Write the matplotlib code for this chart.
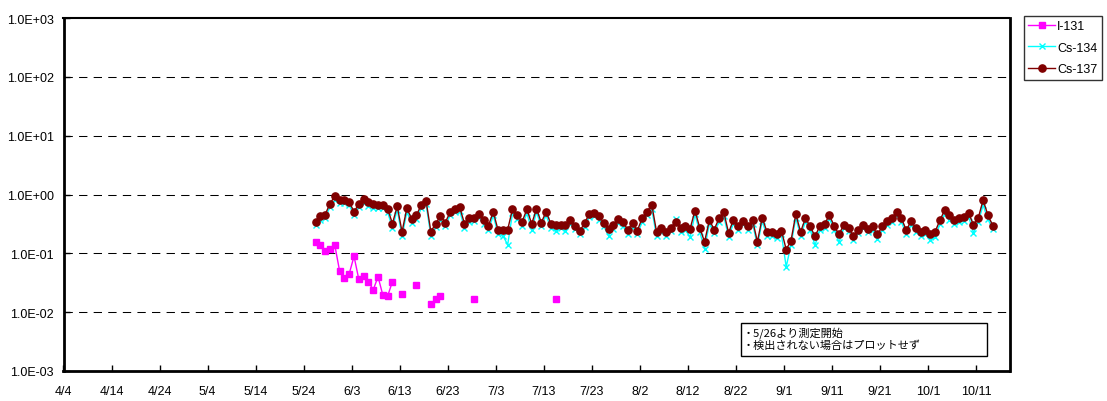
import numpy as np
import pandas as pd
import matplotlib
matplotlib.use("Agg")
import matplotlib.pyplot as plt
from matplotlib.ticker import FixedLocator, FuncFormatter, NullLocator
from matplotlib.patches import Rectangle

plt.rcParams['font.family'] = ['Liberation Sans', 'DejaVu Sans']

# ---- data (daily from 2011-05-26) ----
start_date = "2011-05-26 12:00"
n_days = 142
nan = np.nan

i131 = [0.157, 0.139, 0.109, 0.119, 0.137, 0.050, 0.038, 0.045, 0.089, 0.036,
        0.041, 0.033, 0.024, 0.040, 0.0195, 0.0188, 0.033, nan, 0.0205, nan,
        nan, 0.029, nan, nan, 0.0135, 0.0168, 0.0188, nan, nan, nan,
        nan, nan, nan, 0.0168, nan, nan, nan, nan, nan, nan,
        nan, nan, nan, nan, nan, nan, nan, nan, nan, nan,
        0.0168] + [nan] * 91

cs134 = [0.30, 0.37, 0.40, 0.62, 0.80, 0.72, 0.72, 0.66, 0.44, 0.62,
         0.73, 0.65, 0.60, 0.58, 0.58, 0.50, 0.27, 0.55, 0.195, 0.50,
         0.33, 0.38, 0.58, 0.68, 0.20, 0.28, 0.37, 0.29, 0.44, 0.50,
         0.53, 0.27, 0.34, 0.35, 0.41, 0.31, 0.25, 0.44, 0.21, 0.20,
         0.14, 0.48, 0.38, 0.29, 0.48, 0.25, 0.50, 0.29, 0.44, 0.27,
         0.24, 0.27, 0.24, 0.32, 0.26, 0.21, 0.28, 0.41, 0.43, 0.37,
         0.29, 0.20, 0.26, 0.33, 0.29, 0.21, 0.28, 0.21, 0.34, 0.44,
         0.56, 0.195, 0.23, 0.195, 0.24, 0.39, 0.23, 0.25, 0.19, 0.46,
         0.23, 0.12, 0.32, 0.22, 0.34, 0.43, 0.19, 0.32, 0.25, 0.31,
         0.25, 0.32, 0.136, 0.35, 0.20, 0.20, 0.18, 0.21, 0.059, 0.14,
         0.40, 0.20, 0.34, 0.25, 0.137, 0.25, 0.27, 0.39, 0.25, 0.154,
         0.27, 0.24, 0.17, 0.22, 0.27, 0.23, 0.25, 0.176, 0.25, 0.30,
         0.34, 0.44, 0.34, 0.21, 0.30, 0.23, 0.20, 0.21, 0.167, 0.19,
         0.31, 0.46, 0.37, 0.31, 0.34, 0.35, 0.42, 0.223, 0.34, 0.66,
         0.38, 0.26]

cs137 = [0.343, 0.428, 0.457, 0.703, 0.936, 0.822, 0.822, 0.760, 0.50, 0.703,
         0.845, 0.760, 0.703, 0.676, 0.668, 0.571, 0.321, 0.632, 0.232, 0.585,
         0.386, 0.440, 0.676, 0.782, 0.235, 0.317, 0.434, 0.334, 0.50, 0.571,
         0.608, 0.321, 0.391, 0.402, 0.47, 0.366, 0.297, 0.507, 0.247, 0.254,
         0.254, 0.562, 0.44, 0.343, 0.562, 0.317, 0.571, 0.334, 0.507, 0.317,
         0.309, 0.309, 0.309, 0.366, 0.297, 0.238, 0.325, 0.47, 0.494, 0.423,
         0.334, 0.257, 0.305, 0.38, 0.338, 0.254, 0.325, 0.244, 0.395, 0.507,
         0.676, 0.232, 0.271, 0.226, 0.274, 0.343, 0.27, 0.29, 0.264, 0.534,
         0.271, 0.157, 0.366, 0.254, 0.391, 0.50, 0.223, 0.372, 0.297, 0.361,
         0.286, 0.366, 0.157, 0.402, 0.232, 0.232, 0.209, 0.244, 0.116, 0.165,
         0.462, 0.232, 0.395, 0.286, 0.195, 0.29, 0.317, 0.446, 0.29, 0.209,
         0.309, 0.274, 0.195, 0.254, 0.309, 0.264, 0.286, 0.209, 0.286, 0.352,
         0.395, 0.514, 0.395, 0.247, 0.352, 0.268, 0.229, 0.254, 0.215, 0.232,
         0.366, 0.54, 0.44, 0.366, 0.402, 0.41, 0.49, 0.30, 0.402, 0.80,
         0.45, 0.297]

series_names = ["I-131", "Cs-134", "Cs-137"]
tick_start = "2011-04-04"
tick_end = "2011-10-11"
x_end = "2011-10-18"
y_ticks = [1e-3, 1e-2, 1e-1, 1e0, 1e1, 1e2, 1e3]
note_lines = ["・5/26より測定開始", "・検出されない場合はプロットせず"]

dates = pd.date_range(start_date, periods=n_days, freq="D")

# ---- figure ----
W, H = 1107, 402
fig = plt.figure(figsize=(W / 100, H / 100), dpi=100)
ax = fig.add_axes([63.5 / W, 1 - 372 / H, (1009.5 - 63.5) / W, (372 - 19) / H])

ax.plot(dates, i131, color="#FF00FF", lw=1.0, marker="s", ms=4.6,
        mfc="#FF00FF", mec="#FF00FF", label=series_names[0], zorder=3)
ax.plot(dates, cs134, color="#00FFFF", lw=1.0, marker="x", ms=5, mew=1.0,
        mec="#00FFFF", label=series_names[1], zorder=4)
ax.plot(dates, cs137, color="#800000", lw=1.0, marker="o", ms=5.2,
        mfc="#800000", mec="#800000", label=series_names[2], zorder=5)

ax.set_yscale("log")
ax.set_ylim(1e-3, 1e3)
ax.yaxis.set_major_locator(FixedLocator(y_ticks))
ax.yaxis.set_minor_locator(NullLocator())
ax.yaxis.set_major_formatter(FuncFormatter(lambda v, p: f"{v:.1E}"))

xticks = pd.date_range(tick_start, tick_end, freq="10D")
ax.set_xlim(pd.Timestamp(tick_start), pd.Timestamp(x_end))
ax.set_xticks(xticks)
ax.set_xticklabels([f"{d.month}/{d.day}" for d in xticks])

ax.tick_params(axis="both", which="major", direction="in", length=4,
               width=1, labelsize=9, colors="black")
ax.tick_params(axis="x", pad=10)
ax.tick_params(axis="y", pad=7)

for v in y_ticks[1:-1]:
    ax.axhline(v, color="black", lw=0.75, ls=(0, (8, 6)), zorder=1)

for side in ["left", "bottom", "right", "top"]:
    ax.spines[side].set_color("black")
ax.spines["left"].set_linewidth(2)
ax.spines["bottom"].set_linewidth(2)
ax.spines["right"].set_linewidth(2)
ax.spines["top"].set_linewidth(1.5)

# legend
leg = fig.legend(loc="upper left", bbox_to_anchor=(1024 / W, 1 - 17 / H),
                 frameon=True, fancybox=False, fontsize=9,
                 handlelength=2.1, handletextpad=0.2, borderpad=0.35,
                 labelspacing=0.75, borderaxespad=0.0)
leg.get_frame().set_edgecolor("black")
leg.get_frame().set_linewidth(1.0)

# note box
rect = Rectangle((740.7 / W, 1 - 357.3 / H), 246 / W, 33.3 / H,
                 transform=fig.transFigure, fill=True, facecolor="white",
                 edgecolor="black", lw=1.0, zorder=10)
fig.patches.append(rect)
for k, line in enumerate(note_lines):
    fig.text(743 / W, 1 - (333 + 13 * k) / H, line, fontsize=8,
             family=["Noto Sans CJK JP", "DejaVu Sans"], va="center",
             ha="left", zorder=11)

fig.savefig("out.png", dpi=100)
